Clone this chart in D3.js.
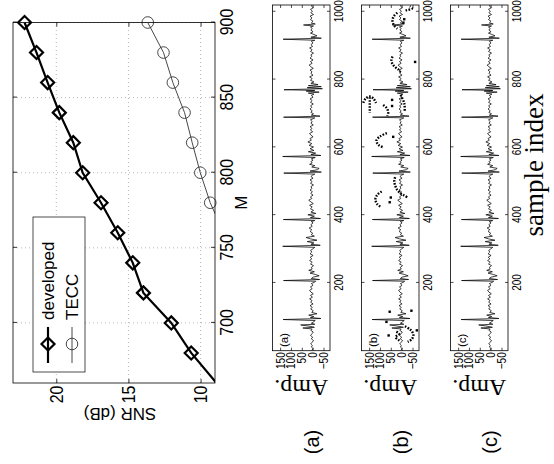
<!DOCTYPE html>
<html><head><meta charset="utf-8">
<script src="https://cdn.jsdelivr.net/npm/d3@7"></script>
<style>
html,body{margin:0;padding:0;background:#fff;}
svg{display:block;}
</style></head>
<body>
<script>
// ---------- data ----------
const snrM = [660,680,700,720,740,760,780,800,820,840,860,880,900];
const snrDeveloped = [8.9,10.65,12.03,13.96,14.7,15.74,16.9,18.17,18.82,19.79,20.6,21.37,22.2];
const snrTeccM = [760,780,800,820,840,860,880,900];
const snrTecc = [8.4,9.33,10.02,10.58,11.11,11.92,12.57,13.66];
const mTicks = [700,750,800,850,900];
const snrTicks = [10,15,20];
const legendLabels = ["developed","TECC"];
const sampleTicks = [200,400,600,800,1000];
const ampTicks = [-50,0,50,100,150];
const panelLabels = ["(a)","(b)","(c)"];
const captionLabels = ["(a)","(b)","(c)"];
// ECG trace [sample, amplitude] (panels a and c)
const ecgTrace = [[1,4],[6,-2],[11,6],[15,1],[20,9],[25,2],[30,-4],[35,6],[40,0],[45,10],[50,3],[55,-3],[60,8],[64,2],[67,45],[69,-8],[72,12],[76,55],[78,-10],[81,6],[86,-6],[89,-12],[92,136],[95,-38],[98,10],[101,-5],[105,18],[109,-20],[113,4],[118,-3],[123,9],[128,2],[133,12],[138,-2],[143,9],[148,3],[153,14],[158,1],[163,10],[168,-3],[173,8],[178,14],[183,2],[188,10],[193,-2],[198,6],[202,-8],[205,-14],[207,134],[210,-32],[213,6],[217,-2],[221,-30],[225,-12],[229,12],[233,-8],[237,18],[241,2],[246,6],[251,-4],[256,10],[261,2],[266,14],[271,4],[276,11],[281,-2],[286,12],[291,4],[296,9],[301,-2],[305,-10],[308,138],[311,-35],[314,8],[318,-6],[322,25],[326,-20],[330,10],[334,30],[338,-8],[342,6],[347,0],[352,12],[357,4],[362,16],[367,2],[372,8],[377,-2],[381,6],[384,-10],[387,135],[390,-36],[393,10],[397,-8],[401,22],[405,-15],[409,8],[414,-4],[419,10],[424,2],[429,14],[434,-3],[439,8],[444,18],[449,4],[454,10],[459,-2],[464,9],[469,1],[474,12],[479,3],[484,8],[489,-4],[494,10],[499,2],[504,12],[509,-2],[514,8],[518,0],[521,-10],[524,133],[527,-40],[530,12],[534,-22],[538,-30],[542,4],[546,-10],[550,14],[554,2],[558,8],[562,-2],[566,6],[570,-12],[573,138],[576,-38],[579,8],[583,-14],[587,20],[591,-6],[596,12],[601,-4],[606,16],[611,4],[616,22],[621,6],[626,12],[631,-2],[636,8],[641,14],[646,0],[651,10],[656,3],[661,12],[666,-3],[671,8],[676,2],[681,10],[685,-4],[687,-10],[689,134],[692,-34],[695,6],[699,-4],[703,8],[708,2],[713,12],[718,4],[723,9],[728,-3],[733,10],[738,2],[743,12],[748,-2],[753,6],[757,-6],[760,20],[763,-30],[766,30],[768,-10],[770,132],[773,-45],[776,25],[779,-40],[782,20],[785,-25],[789,8],[793,-6],[798,10],[803,2],[808,14],[813,-2],[818,8],[823,3],[828,12],[833,-3],[838,9],[843,16],[848,2],[853,10],[858,-2],[863,12],[868,4],[873,8],[878,-4],[883,10],[888,2],[893,14],[898,0],[903,8],[908,-2],[913,6],[916,-10],[919,136],[922,-40],[925,8],[929,-20],[933,-6],[937,10],[941,-2],[946,8],[951,2],[955,10],[958,-4],[961,42],[964,-12],[967,6],[972,-2],[977,10],[982,3],[987,12],[992,-4],[997,8],[1002,1],[1007,10],[1012,-3],[1017,6],[1020,2]];
// impulsive-noise excursions visible only in panel (b), drawn dotted
const noiseArcs = [
  [[72,-15],[62,-40],[48,-54],[35,-48],[26,-28]],
  [[30,10],[40,28],[50,12],[58,30]],
  [[470,92],[460,112],[447,121],[433,113],[423,93]],
  [[512,30],[500,34],[488,30],[476,22],[466,8],[458,-12],[452,-28]],
  [[642,68],[632,100],[620,116],[608,108],[599,82]],
  [[731,177],[744,166],[750,147],[744,130],[731,118]],
  [[748,147],[702,147]],
  [[725,85],[715,68],[703,62],[692,66]],
  [[755,5],[730,-12],[705,-14]],
  [[868,42],[858,47],[847,43],[837,30],[829,14],[822,6]],
  [[997,20],[987,36],[974,42],[961,36],[950,20]],
  [[1004,-18],[1010,-48],[1016,-38]]
];
const noiseDots = [[45,60],[85,70],[60,-70],[115,55],[118,-45],[438,55],[452,50],[631,39],[740,44],[722,44],[852,-62],[968,-8],[978,-12]];

// ---------- layout (drawn upright, then turned a quarter left) ----------
const W = 554, H = 464;
const svg = d3.select("body").append("svg").attr("width", W).attr("height", H);
const root = svg.append("g").attr("transform", `translate(0,${H}) rotate(-90)`);
const sans = "'Liberation Sans', Arial, Helvetica, sans-serif";
const serif = "'Liberation Serif', 'Times New Roman', Times, serif";

// ===== SNR plot =====
const P = {x0: 81, x1: 441.5, y0: 13, y1: 215};
const xM = d3.scaleLinear().domain([660, 900]).range([P.x0, P.x1]);
const ySNR = d3.scaleLinear().domain([9, 23]).range([P.y1, P.y0]);
const g1 = root.append("g");
g1.append("clipPath").attr("id","clipSNR").append("rect")
  .attr("x",P.x0).attr("y",P.y0).attr("width",P.x1-P.x0).attr("height",P.y1-P.y0);
g1.selectAll(".gx").data(mTicks).join("line")
  .attr("x1", d=>xM(d)).attr("x2", d=>xM(d)).attr("y1",P.y0).attr("y2",P.y1)
  .attr("stroke","#888").attr("stroke-width",0.6).attr("stroke-dasharray","1,3");
g1.selectAll(".gy").data(snrTicks).join("line")
  .attr("y1", d=>ySNR(d)).attr("y2", d=>ySNR(d)).attr("x1",P.x0).attr("x2",P.x1)
  .attr("stroke","#888").attr("stroke-width",0.6).attr("stroke-dasharray","1,3");
const lineDev = d3.line().x((d,i)=>xM(snrM[i])).y(d=>ySNR(d));
const lineTecc = d3.line().x((d,i)=>xM(snrTeccM[i])).y(d=>ySNR(d));
const clipG = g1.append("g").attr("clip-path","url(#clipSNR)");
clipG.append("path").attr("d", lineTecc(snrTecc)).attr("fill","none").attr("stroke","#333").attr("stroke-width",0.9);
clipG.append("path").attr("d", lineDev(snrDeveloped)).attr("fill","none").attr("stroke","#000").attr("stroke-width",2.2);
const inside = (m,v)=> m>=660 && m<=900 && v>=9 && v<=23;
const diamond = (cx,cy,r)=>`M${cx},${cy-r}L${cx+r},${cy}L${cx},${cy+r}L${cx-r},${cy}Z`;
g1.selectAll(".dm").data(snrDeveloped.map((v,i)=>[snrM[i],v]).filter(d=>inside(d[0],d[1]))).join("path")
  .attr("d", d=>diamond(xM(d[0]), ySNR(d[1]), 6.5))
  .attr("fill","none").attr("stroke","#000").attr("stroke-width",2.2);
g1.selectAll(".cm").data(snrTecc.map((v,i)=>[snrTeccM[i],v]).filter(d=>inside(d[0],d[1]))).join("circle")
  .attr("cx", d=>xM(d[0])).attr("cy", d=>ySNR(d[1])).attr("r",5.8)
  .attr("fill","none").attr("stroke","#333").attr("stroke-width",0.9);
g1.append("rect").attr("x",P.x0).attr("y",P.y0).attr("width",P.x1-P.x0).attr("height",P.y1-P.y0)
  .attr("fill","none").attr("stroke","#000").attr("stroke-width",0.8);
const axB = g1.append("g").attr("transform",`translate(0,${P.y1})`)
  .call(d3.axisBottom(xM).tickValues(mTicks).tickSize(-4).tickPadding(5).tickFormat(d3.format("d")));
const axT = g1.append("g").attr("transform",`translate(0,${P.y0})`)
  .call(d3.axisTop(xM).tickValues(mTicks).tickSize(-4).tickFormat(""));
const axL = g1.append("g").attr("transform",`translate(${P.x0},0)`)
  .call(d3.axisLeft(ySNR).tickValues(snrTicks).tickSize(-4).tickPadding(3).tickFormat(d3.format("d")));
const axR = g1.append("g").attr("transform",`translate(${P.x1},0)`)
  .call(d3.axisRight(ySNR).tickValues(snrTicks).tickSize(-4).tickFormat(""));
[axB,axT,axL,axR].forEach(a=>{ a.select(".domain").remove(); a.selectAll("line").attr("stroke","#000").attr("stroke-width",0.8); });
axB.selectAll("text").attr("font-family",sans).attr("font-size",19).attr("fill","#000").attr("transform","scale(0.84,1)");
axL.selectAll("text").attr("font-family",sans).attr("font-size",19).attr("fill","#000").attr("transform","scale(0.84,1)");
g1.append("text").attr("x",(P.x0+P.x1)/2).attr("y",247).attr("text-anchor","middle")
  .attr("font-family",sans).attr("font-size",17).text("M");
g1.append("text").attr("transform",`translate(52,${120}) rotate(-90)`).attr("text-anchor","middle")
  .attr("dominant-baseline","middle").attr("font-family",sans).attr("font-size",17).text("SNR (dB)");
// legend
const L = {x0: 92, x1: 247, y0: 33, y1: 85};
const lg = g1.append("g");
lg.append("rect").attr("x",L.x0).attr("y",L.y0).attr("width",L.x1-L.x0).attr("height",L.y1-L.y0)
  .attr("fill","#fff").attr("stroke","#000").attr("stroke-width",0.7);
const legY = [48, 72];
lg.append("line").attr("x1",101).attr("x2",137).attr("y1",legY[0]).attr("y2",legY[0]).attr("stroke","#000").attr("stroke-width",2.2);
lg.append("path").attr("d",diamond(120,legY[0],6.5)).attr("fill","none").attr("stroke","#000").attr("stroke-width",2.2);
lg.append("line").attr("x1",101).attr("x2",137).attr("y1",legY[1]).attr("y2",legY[1]).attr("stroke","#333").attr("stroke-width",0.9);
lg.append("circle").attr("cx",120).attr("cy",legY[1]).attr("r",5.8).attr("fill","none").attr("stroke","#333").attr("stroke-width",0.9);
lg.selectAll(".lt").data(legendLabels).join("text")
  .attr("x",144).attr("y",(d,i)=>legY[i]).attr("dominant-baseline","central")
  .attr("font-family",sans).attr("font-size",17).text(d=>d);

// ===== signal panels =====
const S = {x0: 113.3, x1: 459, h: 57.5};
const panelTops = [272.5, 361.5, 450.5];
const xS = d3.scaleLinear().domain([0, 1020]).range([S.x0, S.x1]);
panelTops.forEach((top, k)=>{
  const yA = d3.scaleLinear().domain([-80, 185]).range([top+S.h, top]);
  const g = root.append("g");
  const cid = "clipS"+k;
  g.append("clipPath").attr("id",cid).append("rect").attr("x",S.x0).attr("y",top).attr("width",S.x1-S.x0).attr("height",S.h);
  const line = d3.line().x(d=>xS(d[0])).y(d=>yA(d[1]));
  const cg = g.append("g").attr("clip-path",`url(#${cid})`);
  cg.append("path").attr("d", line(ecgTrace)).attr("fill","none").attr("stroke","#000").attr("stroke-width",0.75).attr("stroke-linejoin","round");
  if (k === 1) {
    const curve = d3.line().x(d=>xS(d[0])).y(d=>yA(d[1])).curve(d3.curveCatmullRom);
    cg.selectAll(".na").data(noiseArcs).join("path").attr("d", d=>curve(d))
      .attr("fill","none").attr("stroke","#000").attr("stroke-width",2.4).attr("stroke-dasharray","1.6,1.4");
    cg.selectAll(".nd").data(noiseDots).join("rect")
      .attr("x",d=>xS(d[0])-1.2).attr("y",d=>yA(d[1])-1.2).attr("width",2.4).attr("height",2.4).attr("fill","#000");
  }
  g.append("rect").attr("x",S.x0).attr("y",top).attr("width",S.x1-S.x0).attr("height",S.h)
    .attr("fill","none").attr("stroke","#000").attr("stroke-width",0.8);
  const aB = g.append("g").attr("transform",`translate(0,${top+S.h})`)
    .call(d3.axisBottom(xS).tickValues(sampleTicks).tickSize(-3).tickPadding(3).tickFormat(d3.format("d")));
  const aT = g.append("g").attr("transform",`translate(0,${top})`)
    .call(d3.axisTop(xS).tickValues(sampleTicks).tickSize(-3).tickFormat(""));
  const aL = g.append("g").attr("transform",`translate(${S.x0},0)`)
    .call(d3.axisLeft(yA).tickValues(ampTicks).tickSize(-3).tickPadding(2).tickFormat(d3.format("d")));
  const aR = g.append("g").attr("transform",`translate(${S.x1},0)`)
    .call(d3.axisRight(yA).tickValues(ampTicks).tickSize(-3).tickFormat(""));
  [aB,aT,aL,aR].forEach(a=>{ a.select(".domain").remove(); a.selectAll("line").attr("stroke","#000").attr("stroke-width",0.7); });
  aB.selectAll("text").attr("font-family",sans).attr("font-size",13.5).attr("fill","#000").attr("transform","scale(0.74,1)");
  aL.selectAll("text").attr("font-family",sans).attr("font-size",12.5).attr("fill","#000").attr("transform","scale(0.8,1)");
  g.append("text").attr("x",117).attr("y",top+15).attr("font-family",sans).attr("font-size",11.5).text(panelLabels[k]);
  g.append("text").attr("transform",`translate(${76},${top+S.h/2}) rotate(-90)`).attr("text-anchor","middle")
    .attr("dominant-baseline","central").attr("font-family",serif).attr("font-size",24).text("Amp.");
  g.append("text").attr("x",22).attr("y",top+39).attr("text-anchor","middle").attr("dominant-baseline","central")
    .attr("font-family",sans).attr("font-size",20).text(captionLabels[k]);
});
root.append("text").attr("x",299).attr("y",543).attr("text-anchor","middle")
  .attr("font-family",serif).attr("font-size",27).text("sample index");
</script>
</body></html>
